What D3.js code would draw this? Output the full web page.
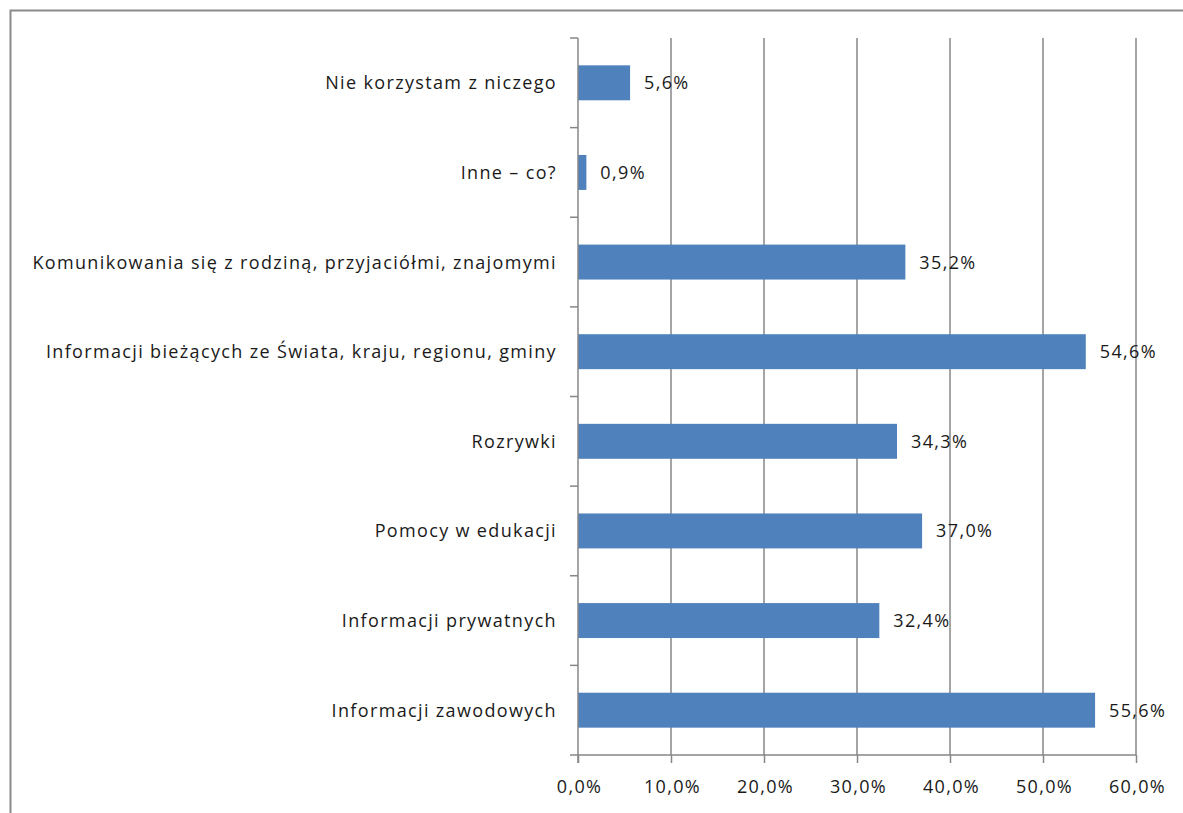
<!DOCTYPE html>
<html>
<head>
<meta charset="utf-8">
<script src="https://cdn.jsdelivr.net/npm/d3@7"></script>
<style>
  html, body { margin: 0; padding: 0; background: #fff; }
  svg { display: block; }
  text { font-family: "Open Sans", "Liberation Sans", sans-serif; fill: #1a1a1a; letter-spacing: 1.35px; }
</style>
</head>
<body>
<svg id="chart" width="1183" height="813"></svg>
<script>
const categories = [
  "Nie korzystam z niczego",
  "Inne – co?",
  "Komunikowania się z rodziną, przyjaciółmi, znajomymi",
  "Informacji bieżących ze Świata, kraju, regionu, gminy",
  "Rozrywki",
  "Pomocy w edukacji",
  "Informacji prywatnych",
  "Informacji zawodowych"
];
const values = [5.6, 0.9, 35.2, 54.6, 34.3, 37.0, 32.4, 55.6];
const xTicks = [0, 10, 20, 30, 40, 50, 60];

(function () {
const svg = d3.select("#chart");
const W = 1183, H = 813;
const mLeft = 578, mRight = 1136, mTop = 38, mBottom = 755;
const gridColor = "#878787";
const fs = 18;
const fmt = v => v.toFixed(1).replace(".", ",") + "%";

svg.append("path")
  .attr("d", `M10.5,${H + 5} V10.5 H${W + 5}`)
  .attr("fill", "none").attr("stroke", "#8a8a8a").attr("stroke-width", 2);

const x = d3.scaleLinear().domain([0, 60]).range([mLeft, mRight]);
const y = d3.scaleBand().domain(categories).range([mTop, mBottom]).padding(0);

svg.append("g").selectAll("line")
  .data(xTicks.filter(d => d > 0))
  .join("line")
  .attr("x1", d => x(d)).attr("x2", d => x(d))
  .attr("y1", mTop).attr("y2", mBottom)
  .attr("stroke", gridColor).attr("stroke-width", 1.5);

const barFrac = 0.39;
svg.append("g").selectAll("rect")
  .data(values)
  .join("rect")
  .attr("x", x(0))
  .attr("y", (d, i) => y(categories[i]) + y.bandwidth() * (1 - barFrac) / 2)
  .attr("width", d => x(d) - x(0))
  .attr("height", y.bandwidth() * barFrac)
  .attr("fill", "#4f81bd");

svg.append("g").selectAll("text")
  .data(values)
  .join("text")
  .attr("x", d => x(d) + 14)
  .attr("y", (d, i) => y(categories[i]) + y.bandwidth() / 2)
  .attr("dy", "0.36em")
  .attr("font-size", fs)
  .text(d => fmt(d));

const xAxis = d3.axisBottom(x).tickValues(xTicks).tickSize(8).tickFormat(fmt);
const gx = svg.append("g").attr("transform", `translate(0,${mBottom})`).call(xAxis);
gx.select(".domain").attr("stroke", gridColor).attr("stroke-width", 1.5)
  .attr("d", `M${mLeft},0H${mRight}`);
gx.selectAll(".tick line").attr("stroke", gridColor).attr("stroke-width", 1.5);
gx.selectAll(".tick text").attr("font-size", fs).attr("font-family", null)
  .attr("x", 1).attr("y", 25).attr("dy", "0.71em").attr("fill", "#1a1a1a");

const yAxis = d3.axisLeft(y).tickSize(0).tickPadding(21);
const gy = svg.append("g").attr("transform", `translate(${mLeft},0)`).call(yAxis);
gy.select(".domain").attr("stroke", gridColor).attr("stroke-width", 1.5)
  .attr("d", `M0,${mTop}V${mBottom + 8}`);
gy.selectAll(".tick text").attr("font-size", fs).attr("font-family", null)
  .attr("dy", "0.36em").attr("fill", "#1a1a1a");
const bounds = categories.map(c => y(c)).concat([mBottom]);
gy.append("g").selectAll("line")
  .data(bounds)
  .join("line")
  .attr("x1", -8).attr("x2", 0)
  .attr("y1", d => d).attr("y2", d => d)
  .attr("stroke", gridColor).attr("stroke-width", 1.5);
})();
</script>
</body>
</html>
